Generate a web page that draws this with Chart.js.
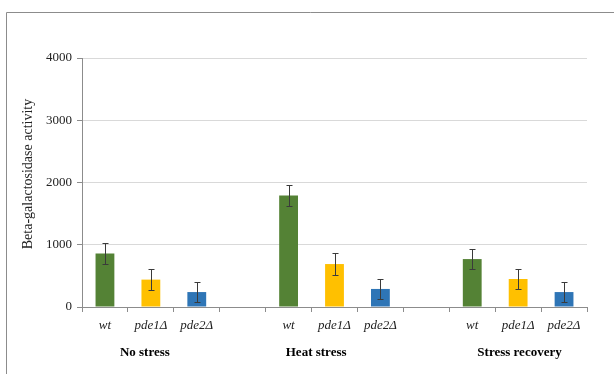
<!DOCTYPE html>
<html>
<head>
<meta charset="utf-8">
<script src="https://cdn.jsdelivr.net/npm/chart.js@4"></script>
<style>
  html, body { margin: 0; padding: 0; background: #fff; }
  #wrap { position: relative; width: 614px; height: 374px; }
</style>
</head>
<body>
<div id="wrap"><canvas id="c" width="614" height="374"></canvas></div>
<script>
// Conditions and strains
const conditions = ['No stress', 'Heat stress', 'Stress recovery'];
const strains = ['wt', 'pde1Δ', 'pde2Δ'];
const yTitle = 'Beta-galactosidase activity';

// Mean beta-galactosidase activity per condition
const wtValues   = [860, 1790, 770];
const pde1Values = [440, 690, 450];
const pde2Values = [240, 290, 240];

// Standard deviations
const wtErrors   = [165, 165, 160];
const pde1Errors = [165, 170, 165];
const pde2Errors = [160, 160, 165];

const yTicks = [0, 1000, 2000, 3000, 4000];

const strainColors = ['#548235', '#FFC000', '#2E75B6'];
const serif = '"Liberation Serif", "Times New Roman", serif';

// Flatten into category slots, with an empty slot between conditions
const labels = [], values = [], errors = [], colors = [];
const perStrainValues = [wtValues, pde1Values, pde2Values];
const perStrainErrors = [wtErrors, pde1Errors, pde2Errors];
conditions.forEach((cond, ci) => {
  strains.forEach((s, si) => {
    labels.push(s);
    values.push(perStrainValues[si][ci]);
    errors.push(perStrainErrors[si][ci]);
    colors.push(strainColors[si]);
  });
  if (ci < conditions.length - 1) {
    labels.push('');
    values.push(null);
    errors.push(null);
    colors.push('rgba(0,0,0,0)');
  }
});

// Frame line along the top and left edges
const framePlugin = {
  id: 'frame',
  beforeDraw(chart) {
    const ctx = chart.ctx;
    ctx.save();
    ctx.strokeStyle = '#8c8c8c';
    ctx.lineWidth = 1;
    ctx.beginPath();
    ctx.moveTo(614, 12.5);
    ctx.lineTo(6.5, 12.5);
    ctx.lineTo(6.5, 374);
    ctx.stroke();
    ctx.restore();
  }
};

// Error bars with caps
const errorBarPlugin = {
  id: 'errorBars',
  afterDatasetsDraw(chart) {
    const ctx = chart.ctx;
    const meta = chart.getDatasetMeta(0);
    const y = chart.scales.y;
    ctx.save();
    ctx.strokeStyle = '#3a3a3a';
    ctx.lineWidth = 1;
    meta.data.forEach((bar, i) => {
      const v = values[i], e = errors[i];
      if (v == null || e == null) return;
      const x = Math.round(bar.x) + 0.5;
      const yt = Math.round(y.getPixelForValue(v + e)) + 0.5;
      const yb = Math.round(y.getPixelForValue(v - e)) + 0.5;
      ctx.beginPath();
      ctx.moveTo(x, yt); ctx.lineTo(x, yb);
      ctx.moveTo(x - 3, yt); ctx.lineTo(x + 3, yt);
      ctx.moveTo(x - 3, yb); ctx.lineTo(x + 3, yb);
      ctx.stroke();
    });
    ctx.restore();
  }
};

// Condition names under each group, plus the rotated y-axis title
const textPlugin = {
  id: 'extraText',
  afterDraw(chart) {
    const ctx = chart.ctx;
    const x = chart.scales.x;
    const centers = [0.87, 4.6, 9.03];
    ctx.save();
    ctx.font = 'bold 13px ' + serif;
    ctx.fillStyle = '#000';
    ctx.textAlign = 'center';
    ctx.textBaseline = 'middle';
    conditions.forEach((c, i) => {
      ctx.fillText(c, x.getPixelForValue(centers[i]), 353);
    });
    ctx.translate(28, 174);
    ctx.rotate(-Math.PI / 2);
    ctx.font = '14px ' + serif;
    ctx.fillStyle = '#222';
    ctx.fillText(yTitle, 0, 0);
    ctx.restore();
  }
};

new Chart(document.getElementById('c'), {
  type: 'bar',
  data: {
    labels: labels,
    datasets: [{
      data: values,
      backgroundColor: colors,
      borderWidth: 0,
      categoryPercentage: 1,
      barPercentage: 0.41
    }]
  },
  options: {
    responsive: false,
    animation: false,
    devicePixelRatio: 1,
    layout: { padding: { top: 58, right: 27, left: 20, bottom: 0 } },
    plugins: { legend: { display: false }, tooltip: { enabled: false } },
    scales: {
      x: {
        grid: {
          offset: true,
          drawOnChartArea: false,
          tickLength: 5,
          tickColor: '#8c8c8c'
        },
        border: { color: '#8c8c8c' },
        ticks: {
          autoSkip: false,
          maxRotation: 0,
          color: '#222',
          padding: 6,
          font: { family: serif, size: 13, style: 'italic' }
        },
        afterFit(scale) { scale.height = 374 - 307; }
      },
      y: {
        min: 0,
        max: 4000,
        afterBuildTicks(scale) { scale.ticks = yTicks.map(v => ({ value: v })); },
        grid: {
          color: '#d9d9d9',
          tickLength: 5,
          tickColor: '#8c8c8c'
        },
        border: { color: '#8c8c8c' },
        ticks: {
          color: '#222',
          padding: 5,
          font: { family: serif, size: 13 },
          callback: (v) => String(v)
        },
        afterFit(scale) { scale.width = 82 - 20; }
      }
    }
  },
  plugins: [framePlugin, errorBarPlugin, textPlugin]
});
</script>
</body>
</html>
